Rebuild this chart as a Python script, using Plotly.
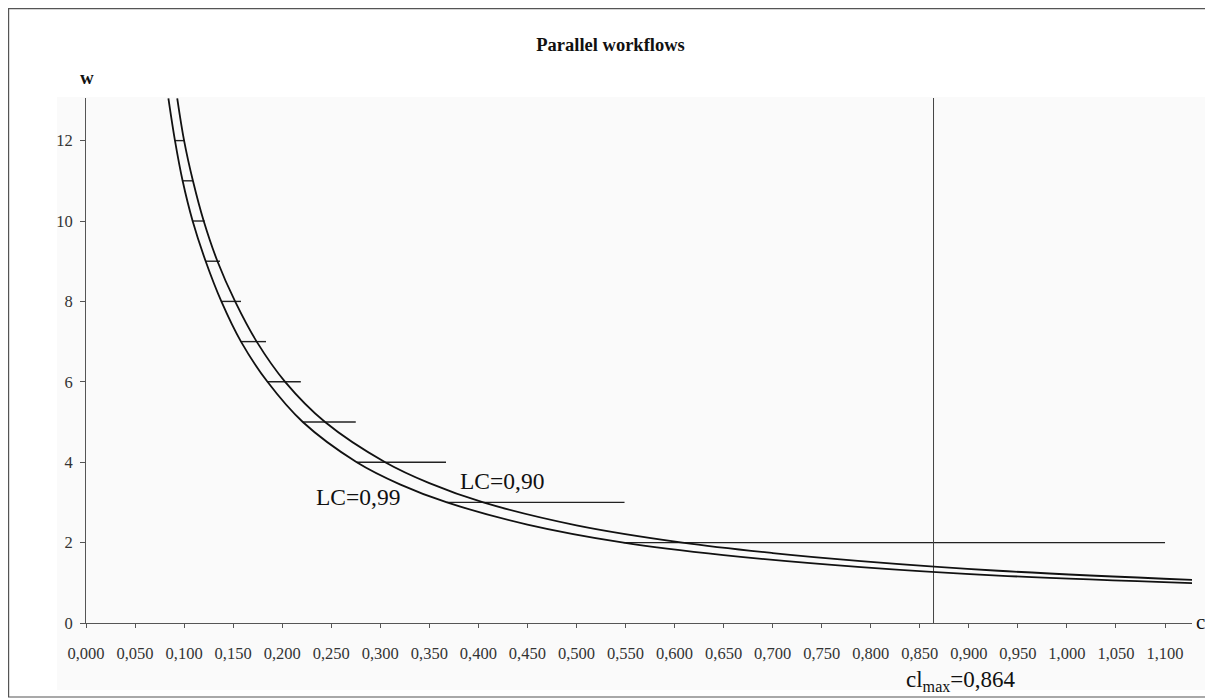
import plotly.graph_objects as go

# ---- data ----
# LC = 0,99 curve (inner)
cl_099 = [0.084, 0.0907, 0.0985, 0.1087, 0.122, 0.138, 0.158, 0.185, 0.221, 0.276, 0.32, 0.368, 0.45, 0.548, 0.65, 0.79, 0.93, 1.13]
w_099 = [13.05, 12, 11, 10, 9, 8, 7, 6, 5, 4, 3.45, 3, 2.45, 2.0, 1.69, 1.39, 1.18, 0.99]
# LC = 0,90 curve (outer)
cl_090 = [0.093, 0.1, 0.109, 0.12, 0.134, 0.152, 0.174, 0.203, 0.2437, 0.305, 0.35, 0.405, 0.5, 0.608, 0.7, 0.79, 0.93, 1.13]
w_090 = [13.05, 12, 11, 10, 9, 8, 7, 6, 5, 4, 3.48, 3, 2.43, 2.0, 1.74, 1.54, 1.3, 1.07]
# horizontal steps (workflows w)
step_w = [12, 11, 10, 9, 8, 7, 6, 5, 4, 3, 2]
step_start = [0.0907, 0.0985, 0.1087, 0.122, 0.138, 0.158, 0.185, 0.221, 0.276, 0.368, 0.548]
step_end = [0.1009, 0.109, 0.121, 0.1366, 0.158, 0.1835, 0.219, 0.275, 0.367, 0.549, 1.1]
cl_max = 0.864
x_ticks = [round(i * 0.05, 3) for i in range(23)]
x_tick_labels = [f"{v:.3f}".replace(".", ",") for v in x_ticks]
y_ticks = [0, 2, 4, 6, 8, 10, 12]
y_tick_labels = ["0", "2", "4", "6", "8", "10", "12"]

X_RANGE = [0, 1.1275]
Y_RANGE = [0, 13.06]

# page pixel -> paper helpers (plot area spans page x 86..1192, y 98..623; body margin 8px)
def px(xp):
    return (xp - 86) / 1106

def py(yp):
    return (623 - yp) / 525

fig = go.Figure()

# steps
sx, sy = [], []
for w, a, b in zip(step_w, step_start, step_end):
    sx += [a, b, None]
    sy += [w, w, None]
fig.add_trace(go.Scatter(x=sx, y=sy, mode="lines", line=dict(color="#222222", width=1.4),
                         hoverinfo="skip", showlegend=False))

# vertical cl_max line
fig.add_trace(go.Scatter(x=[cl_max, cl_max], y=[0, Y_RANGE[1]], mode="lines",
                         line=dict(color="#444444", width=1), showlegend=False, hoverinfo="skip"))

fig.add_trace(go.Scatter(x=cl_099, y=w_099, mode="lines",
                         line=dict(color="#111111", width=1.8, shape="spline", smoothing=1.0),
                         name="LC=0,99", showlegend=False))
fig.add_trace(go.Scatter(x=cl_090, y=w_090, mode="lines",
                         line=dict(color="#111111", width=1.8, shape="spline", smoothing=1.0),
                         name="LC=0,90", showlegend=False))

serif = "Liberation Serif, Times New Roman, serif"

fig.update_layout(
    width=1205, height=692,
    margin=dict(l=78, r=21, t=90, b=77),
    paper_bgcolor="white", plot_bgcolor="rgba(0,0,0,0)",
    font=dict(family=serif, color="#222222"),
    title=dict(text="<b>Parallel workflows</b>", x=0.5, xanchor="center", y=1 - 37 / 692, yanchor="middle",
               font=dict(family=serif, size=18.5, color="#111111")),
    xaxis=dict(range=X_RANGE, tickvals=x_ticks, ticktext=x_tick_labels, showgrid=False, zeroline=False,
               showline=True, linecolor="#555555", linewidth=1, ticks="outside", ticklen=4, tickcolor="#555555",
               tickfont=dict(family=serif, size=16.5, color="#333333"), ticklabelstandoff=11),
    yaxis=dict(range=Y_RANGE, tickvals=y_ticks, ticktext=y_tick_labels, showgrid=False, zeroline=False,
               showline=True, linecolor="#555555", linewidth=1, ticks="outside", ticklen=5, tickcolor="#555555",
               tickfont=dict(family=serif, size=16.5, color="#333333"), ticklabelstandoff=4),
    shapes=[
        dict(type="rect", xref="paper", yref="paper", x0=px(57), x1=px(1214),
             y0=py(690), y1=py(97), fillcolor="#fafafa", line=dict(width=0), layer="below"),
        dict(type="rect", xref="paper", yref="paper", x0=px(8.6), x1=px(1218),
             y0=py(697), y1=py(8.6), fillcolor="rgba(0,0,0,0)",
             line=dict(color="#555555", width=1.2), layer="below"),
    ],
    annotations=[
        dict(text="LC=0,99", x=0.277, y=3.13, xref="x", yref="y", showarrow=False,
             xanchor="center", yanchor="middle", font=dict(family=serif, size=23.5, color="#111111")),
        dict(text="LC=0,90", x=0.424, y=3.53, xref="x", yref="y", showarrow=False,
             xanchor="center", yanchor="middle", font=dict(family=serif, size=23.5, color="#111111")),
        dict(text="<b>w</b>", x=px(87), y=py(78), xref="paper", yref="paper", showarrow=False,
             xanchor="center", yanchor="middle", font=dict(family=serif, size=19, color="#111111")),
        dict(text="cl", x=px(1194), y=py(622), xref="paper", yref="paper", xanchor="left", yanchor="middle",
             showarrow=False, font=dict(family=serif, size=21, color="#111111")),
        dict(text="cl<sub>max</sub>=0,864", x=px(961), y=py(681), xref="paper", yref="paper",
             xanchor="center", yanchor="middle",
             showarrow=False, font=dict(family=serif, size=23, color="#111111")),
    ],
)

fig.write_html("out.html")
